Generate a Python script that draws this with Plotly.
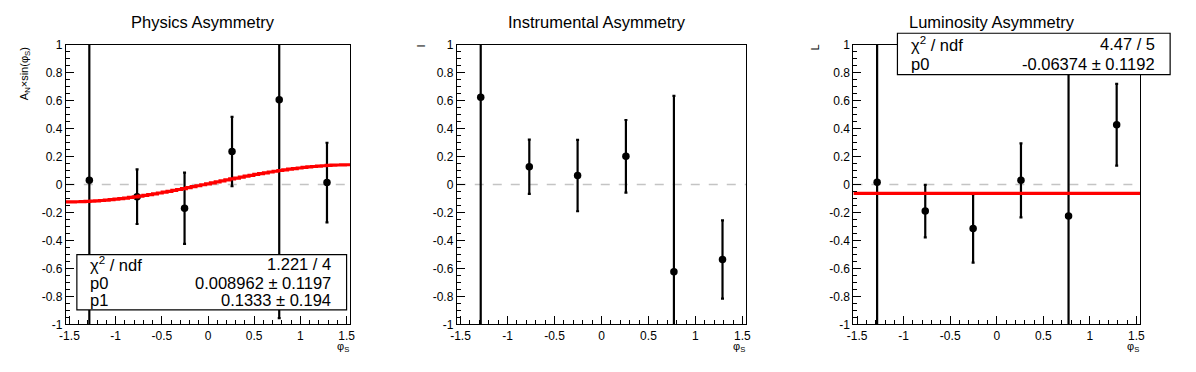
import numpy as np
import plotly.graph_objects as go

# page is 1196x372; the html body has an 8px margin, so the figure itself is smaller
PAGE_W, PAGE_H = 1196, 372
OFF = 8
W, H = PAGE_W - 2 * OFF, PAGE_H - 2 * OFF

# ---------------- data ----------------
phi_s = [-1.285, -0.768, -0.254, 0.260, 0.771, 1.288]

phys_y = [0.030, -0.087, -0.170, 0.236, 0.607, 0.014]
phys_err = [1.30, 0.195, 0.255, 0.248, 1.562, 0.285]
phys_p0, phys_p1 = 0.008962, 0.1333

inst_y = [0.624, 0.127, 0.064, 0.202, -0.623, -0.536]
inst_err = [1.80, 0.194, 0.255, 0.260, 1.258, 0.280]

lumi_y = [0.016, -0.190, -0.314, 0.030, -0.225, 0.428]
lumi_err = [1.30, 0.188, 0.245, 0.265, 1.30, 0.292]
lumi_p0 = -0.06374

titles = ["Physics Asymmetry", "Instrumental Asymmetry", "Luminosity Asymmetry"]
ytitles = ["A<sub>N</sub>×sin(φ<sub>S</sub>)", "I", "L"]
xtitle = "φ<sub>S</sub>"

xticks = [-1.5, -1, -0.5, 0, 0.5, 1, 1.5]
xticktext = ["-1.5", "-1", "-0.5", "0", "0.5", "1", "1.5"]
yticks = [-1, -0.8, -0.6, -0.4, -0.2, 0, 0.2, 0.4, 0.6, 0.8, 1]
yticktext = ["-1", "-0.8", "-0.6", "-0.4", "-0.2", "0", "0.2", "0.4", "0.6", "0.8", "1"]

XR = [-1.54, 1.54]

# frame pixel positions (page coords): (left, right) for each panel; top/bottom
frames = [(59.3, 346.7), (454.3, 746.7), (855.0, 1144.7)]
ftop, fbot = 39.0, 330.0

FONT = "Liberation Sans, Arial, Helvetica, sans-serif"


def px(x):
    return (x - OFF) / W


def py(y):
    return 1 - (y - OFF) / H


fig = go.Figure()

datasets = [(phys_y, phys_err), (inst_y, inst_err), (lumi_y, lumi_err)]

for i, (yv, ev) in enumerate(datasets):
    ax = "" if i == 0 else str(i + 1)
    fig.add_trace(go.Scatter(
        x=phi_s, y=yv, mode="markers",
        marker=dict(color="black", size=7.5, symbol="circle"),
        error_y=dict(type="data", array=ev, visible=True, color="black",
                     thickness=2.2, width=1.5),
        xaxis="x" + ax, yaxis="y" + ax, showlegend=False, hoverinfo="skip",
    ))

# fit curves
xf = np.linspace(XR[0], XR[1], 60)
fig.add_trace(go.Scatter(
    x=xf, y=phys_p0 + phys_p1 * np.sin(xf), mode="lines",
    line=dict(color="#ff0000", width=3.2, shape="hv"),
    xaxis="x", yaxis="y", showlegend=False, hoverinfo="skip"))
fig.add_trace(go.Scatter(
    x=[XR[0], XR[1]], y=[lumi_p0, lumi_p0], mode="lines",
    line=dict(color="#ff0000", width=3.2),
    xaxis="x3", yaxis="y3", showlegend=False, hoverinfo="skip"))

layout = dict(
    width=W, height=H, margin=dict(l=0, r=0, t=0, b=0),
    paper_bgcolor="white", plot_bgcolor="white",
    font=dict(family=FONT, color="black"),
    showlegend=False,
)

shapes = []
annotations = []

for i, (l, r) in enumerate(frames):
    ax = "" if i == 0 else str(i + 1)
    xa = dict(
        domain=[px(l), px(r)], range=XR, anchor="y" + ax,
        showgrid=False, zeroline=False, showline=True, linecolor="black",
        linewidth=1, mirror=True,
        tickmode="array", tickvals=xticks, ticktext=xticktext,
        ticks="inside", ticklen=8, tickwidth=1, tickcolor="black",
        tickfont=dict(size=12, family=FONT, color="black"),
        minor=dict(dtick=0.1, tick0=0, ticks="inside", ticklen=4,
                   tickcolor="black", tickwidth=1, showgrid=False),
        fixedrange=True,
    )
    ya = dict(
        domain=[py(fbot), py(ftop)], range=[-1, 1], anchor="x" + ax,
        showgrid=False, zeroline=False, showline=True, linecolor="black",
        linewidth=1, mirror=True,
        tickmode="array", tickvals=yticks, ticktext=yticktext,
        ticks="inside", ticklen=8, tickwidth=1, tickcolor="black",
        tickfont=dict(size=12, family=FONT, color="black"),
        minor=dict(dtick=0.05, tick0=0, ticks="inside", ticklen=4,
                   tickcolor="black", tickwidth=1, showgrid=False),
        fixedrange=True,
    )
    layout["xaxis" + ax] = xa
    layout["yaxis" + ax] = ya

    # dashed zero line
    shapes.append(dict(type="line", xref="x" + ax + " domain", yref="y" + ax,
                       x0=0, x1=1, y0=0, y1=0, layer="below",
                       line=dict(color="#c4c4c4", width=1.5, dash="dash")))

    # title
    cx = (l + r) / 2
    annotations.append(dict(text=titles[i], xref="paper", yref="paper",
                            x=px(cx - 5), y=py(15), xanchor="center", yanchor="middle",
                            showarrow=False, font=dict(size=16.5, family=FONT)))
    # x title
    annotations.append(dict(text=xtitle, xref="paper", yref="paper",
                            x=px(r + 1), y=py(354), xanchor="right", yanchor="middle",
                            showarrow=False, font=dict(size=11, family=FONT)))

# y titles
annotations.append(dict(text=ytitles[0], xref="paper", yref="paper",
                        x=px(18), y=py(39), xanchor="center", yanchor="top",
                        textangle=-90, showarrow=False, font=dict(size=11, family=FONT)))
annotations.append(dict(text=ytitles[1], xref="paper", yref="paper",
                        x=px(418), y=py(40), xanchor="center", yanchor="middle",
                        textangle=-90, showarrow=False, font=dict(size=11, family=FONT)))
annotations.append(dict(text=ytitles[2], xref="paper", yref="paper",
                        x=px(816), y=py(42), xanchor="center", yanchor="middle",
                        textangle=-90, showarrow=False, font=dict(size=11, family=FONT)))

# stat boxes
def statbox(x0, x1, y0, y1, rows, tl, tr):
    shapes.append(dict(type="rect", xref="paper", yref="paper",
                       x0=px(x0), x1=px(x1), y0=py(y1), y1=py(y0), layer="above",
                       fillcolor="white", line=dict(color="black", width=1.2)))
    for (left, right, yc) in rows:
        annotations.append(dict(text=left, xref="paper", yref="paper",
                                x=px(tl), y=py(yc), xanchor="left", yanchor="middle",
                                showarrow=False, font=dict(size=16.5, family=FONT)))
        annotations.append(dict(text=right, xref="paper", yref="paper",
                                x=px(tr), y=py(yc), xanchor="right", yanchor="middle",
                                showarrow=False, font=dict(size=16.5, family=FONT)))

statbox(70.5, 343, 257.5, 315, [
    ("χ<sup>2</sup> / ndf", "1.221 / 4", 267),
    ("p0", "0.008962 ± 0.1197", 287),
    ("p1", "0.1333 ± 0.194", 305),
], 82, 329)

statbox(899.5, 1175, 27, 70, [
    ("χ<sup>2</sup> / ndf", "4.47 / 5", 38),
    ("p0", "-0.06374 ± 0.1192", 59),
], 911, 1162)

layout["shapes"] = shapes
layout["annotations"] = annotations
fig.update_layout(**layout)

fig.write_html("out.html", config={"displayModeBar": False, "staticPlot": True})
